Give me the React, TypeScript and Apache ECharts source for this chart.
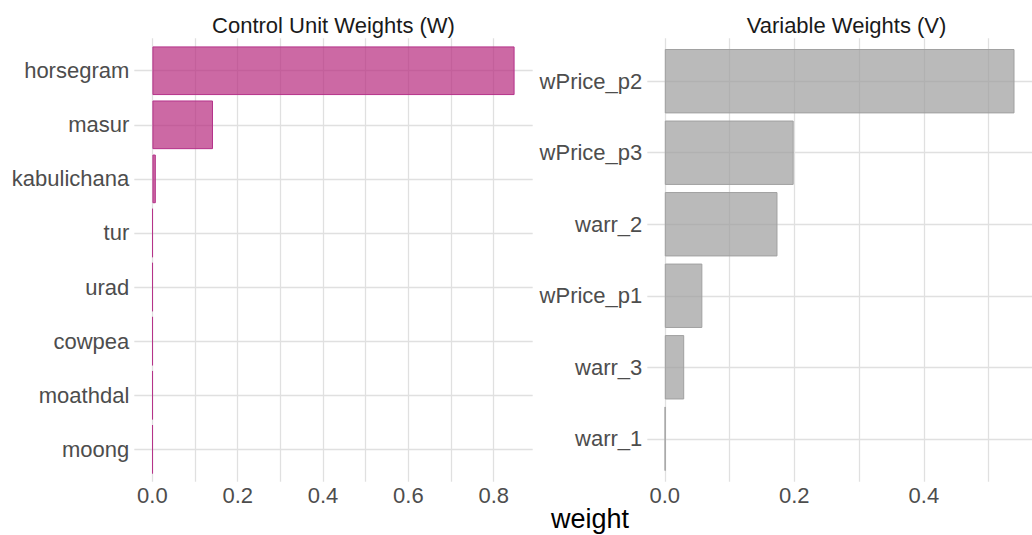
import { useEffect, useRef } from "react";
import * as echarts from "echarts";

// control units (W), top to bottom
const unitNames = ["horsegram", "masur", "kabulichana", "tur", "urad", "cowpea", "moathdal", "moong"];
const unitWeights = [0.849, 0.142, 0.008, 0.0005, 0.0005, 0.0005, 0.0005, 0.0005];

// predictor variables (V), top to bottom
const varNames = ["wPrice_p2", "wPrice_p3", "warr_2", "wPrice_p1", "warr_3", "warr_1"];
const varWeights = [0.54, 0.199, 0.174, 0.058, 0.03, 0.001];

const FONT = '"Liberation Sans", Arial, Helvetica, sans-serif';
const INK = "#4d4d4d";
const RULE = "#e0e0e0";

const W = 1032;
const H = 535;
const PANEL_TOP = 38.3;
const PANEL_BOTTOM = 481.7;

// ggplot-like panel: 5% expansion on the value axis, 0.6 units on the discrete one
function panel(
  gi: number, names: string[], values: number[],
  left: number, right: number, fill: string, stroke: string,
) {
  const top = Math.max(...values);
  const xMin = -0.05 * top;
  const xMax = 1.05 * top;
  const n = names.length;
  const unit = (PANEL_BOTTOM - PANEL_TOP) / (n + 0.2);

  const grids = [
    { left, right: W - right, top: PANEL_TOP, bottom: H - PANEL_BOTTOM },
    { left, right: W - right, top: PANEL_TOP + 0.1 * unit, bottom: H - PANEL_BOTTOM + 0.1 * unit },
  ];

  const xAxes = [
    {
      gridIndex: gi, type: "value", min: xMin, max: xMax,
      minInterval: 0.1, maxInterval: 0.1,
      axisLine: { show: false }, axisTick: { show: false },
      axisLabel: {
        color: INK, fontSize: 22, fontFamily: FONT, margin: 3,
        showMinLabel: false, showMaxLabel: false,
        formatter: (v: number) => {
          const k = Math.round(v / 0.2);
          return Math.abs(v - k * 0.2) < 1e-6 ? (k * 0.2).toFixed(1) : "";
        },
      },
      splitLine: { show: true, showMinLine: false, showMaxLine: false, lineStyle: { color: RULE, width: 1.3 } },
    },
    { gridIndex: gi + 1, type: "value", min: xMin, max: xMax, show: false },
  ];

  const yAxes = [
    {
      gridIndex: gi, type: "value", min: 0.4, max: n + 0.6,
      minInterval: 1, maxInterval: 1,
      axisLine: { show: false }, axisTick: { show: false }, axisLabel: { show: false },
      splitLine: { show: true, showMinLine: false, showMaxLine: false, lineStyle: { color: RULE, width: 1.3 } },
    },
    {
      gridIndex: gi + 1, type: "category", inverse: true, data: names,
      axisLine: { show: false, onZero: false }, axisTick: { show: false },
      axisLabel: { color: INK, fontSize: 22, fontFamily: FONT, margin: 5 },
      splitLine: { show: false },
    },
  ];

  const series = {
    type: "bar", xAxisIndex: gi + 1, yAxisIndex: gi + 1,
    data: values, barWidth: "90%",
    itemStyle: { color: fill, borderColor: stroke, borderWidth: 1 },
  };

  return { grids, xAxes, yAxes, series };
}

export default function App() {
  const ref = useRef<HTMLDivElement>(null);

  useEffect(() => {
    if (!ref.current) return;
    const chart = echarts.init(ref.current, null, { renderer: "svg" });

    const a = panel(0, unitNames, unitWeights, 134.3, 532.7, "rgba(182,42,126,0.7)", "#b5338a");
    const b = panel(2, varNames, varWeights, 647.3, 1045.7, "rgba(156,156,156,0.7)", "#a0a0a0");

    const title = (text: string, x: number) => ({
      type: "text", x, y: 25,
      style: { text, fill: "#1a1a1a", fontSize: 22, fontFamily: FONT, align: "center", verticalAlign: "middle" },
    });

    chart.setOption({
      animation: false,
      backgroundColor: "#ffffff",
      grid: [...a.grids, ...b.grids],
      xAxis: [...a.xAxes, ...b.xAxes],
      yAxis: [...a.yAxes, ...b.yAxes],
      series: [a.series, b.series],
      graphic: [
        title("Control Unit Weights (W)", 333.5),
        title("Variable Weights (V)", 846.5),
        {
          type: "text", x: 590, y: 519,
          style: { text: "weight", fill: "#000", fontSize: 27, fontFamily: FONT, align: "center", verticalAlign: "middle" },
        },
      ],
    });

    return () => chart.dispose();
  }, []);

  return <div ref={ref} style={{ position: "fixed", left: 0, top: 0, width: W, height: H, background: "#fff" }} />;
}
